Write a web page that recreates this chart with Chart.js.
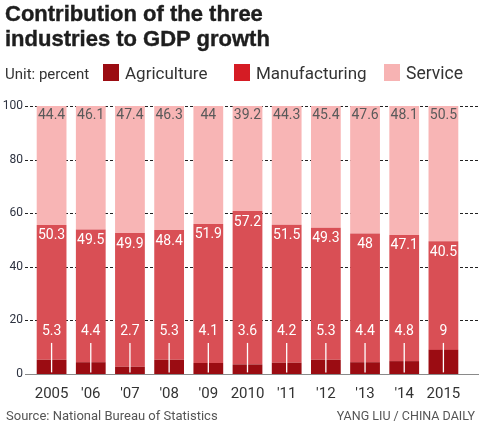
<!DOCTYPE html>
<html lang="en">
<head>
<meta charset="UTF-8">
<title>Contribution of the three industries to GDP growth</title>
<script src="https://cdn.jsdelivr.net/npm/chart.js"></script>
<style>
    body {
        margin: 0;
        background: #fff;
        font-family: Roboto, "Liberation Sans", sans-serif;
    }
    .wrap {
        position: relative;
        width: 481px;
        height: 427px;
    }
    canvas {
        position: absolute;
        left: 0;
        top: 0;
    }
    h1 {
        position: absolute;
        left: 5px;
        top: 1px;
        margin: 0;
        font: bold 22px/25px "Liberation Sans", Arial, sans-serif;
        color: #1e1e1e;
        -webkit-text-stroke: 0.4px #1e1e1e;
    }
    .legend {
        position: absolute;
        top: 63px;
        left: 5px;
        font-size: 17px;
        color: #333;
        line-height: 20px;
    }
    .legend span {
        position: absolute;
        white-space: nowrap;
    }
    .legend i {
        position: absolute;
        width: 16px;
        height: 17px;
        top: 1px;
    }
    .foot {
        position: absolute;
        top: 408px;
        font-size: 13px;
        color: #555;
        white-space: nowrap;
    }
</style>
</head>
<body>
<div class="wrap">
    <canvas id="gdpChart" width="481" height="427"></canvas>
    <h1>Contribution of the three<br>industries to GDP growth</h1>
    <div class="legend">
        <span style="left:0;font-size:15px;top:1px">Unit: percent</span>
        <i style="left:98px;background:#9b0c12"></i><span style="left:120px">Agriculture</span>
        <i style="left:229px;background:#d51c24"></i><span style="left:251px">Manufacturing</span>
        <i style="left:379px;background:#f7b3b3"></i><span style="left:401px;font-size:17.5px">Service</span>
    </div>
    <div class="foot" style="left:6px">Source: National Bureau of Statistics</div>
    <div class="foot" style="right:6px;font-size:12.5px">YANG LIU / CHINA DAILY</div>
</div>

<script>
    // datos
    const years = ['2005', "'06", "'07", "'08", "'09", '2010', "'11", "'12", "'13", "'14", '2015'];
    const agriculture = [5.3, 4.4, 2.7, 5.3, 4.1, 3.6, 4.2, 5.3, 4.4, 4.8, 9];
    const manufacturing = [50.3, 49.5, 49.9, 48.4, 51.9, 57.2, 51.5, 49.3, 48, 47.1, 40.5];
    const service = [44.4, 46.1, 47.4, 46.3, 44, 39.2, 44.3, 45.4, 47.6, 48.1, 50.5];
    const yTicks = [0, 20, 40, 60, 80, 100];

    // grid lines behind the bars, running past the plot edges
    const gridPlugin = {
        id: 'gridLines',
        beforeDatasetsDraw(chart) {
            const ctx = chart.ctx;
            const y = chart.scales.y;
            ctx.save();
            yTicks.forEach(v => {
                const py = Math.round(y.getPixelForValue(v)) + 0.5;
                ctx.beginPath();
                if (v === 0) {
                    ctx.setLineDash([]);
                    ctx.strokeStyle = '#8a8a8a';
                } else {
                    ctx.setLineDash([3, 2]);
                    ctx.strokeStyle = '#222';
                }
                ctx.lineWidth = 1;
                ctx.moveTo(25, py);
                ctx.lineTo(479, py);
                ctx.stroke();
            });
            ctx.restore();
        }
    };

    // value labels on the bars
    const labelPlugin = {
        id: 'barLabels',
        afterDatasetsDraw(chart) {
            const ctx = chart.ctx;
            const y = chart.scales.y;
            ctx.save();
            ctx.font = '14px Roboto, sans-serif';
            ctx.textAlign = 'center';
            ctx.textBaseline = 'middle';

            chart.getDatasetMeta(0).data.forEach((bar, i) => {
                ctx.fillStyle = '#fff';
                ctx.fillText(agriculture[i], bar.x, y.getPixelForValue(15.7));
                ctx.strokeStyle = '#fff';
                ctx.lineWidth = 1.3;
                ctx.beginPath();
                ctx.moveTo(bar.x, y.getPixelForValue(11.6));
                ctx.lineTo(bar.x, y.getPixelForValue(0.6));
                ctx.stroke();
            });
            chart.getDatasetMeta(1).data.forEach((bar, i) => {
                ctx.fillStyle = '#fff';
                ctx.fillText(manufacturing[i], bar.x, bar.y + 11);
            });
            chart.getDatasetMeta(2).data.forEach((bar, i) => {
                ctx.fillStyle = '#5a5a5a';
                ctx.fillText(service[i], bar.x, bar.y + 9);
            });
            ctx.restore();
        }
    };

    new Chart(document.getElementById('gdpChart'), {
        type: 'bar',
        data: {
            labels: years,
            datasets: [
                { label: 'Agriculture', data: agriculture, backgroundColor: '#9b0c12' },
                { label: 'Manufacturing', data: manufacturing, backgroundColor: '#d94f55' },
                { label: 'Service', data: service, backgroundColor: '#f8b5b5' }
            ]
        },
        options: {
            responsive: false,
            animation: false,
            layout: { padding: { top: 106, right: 18, bottom: 26, left: 0 } },
            datasets: { bar: { categoryPercentage: 1, barPercentage: 0.76 } },
            scales: {
                x: {
                    stacked: true,
                    grid: { display: false, drawTicks: false },
                    border: { display: false },
                    ticks: {
                        color: '#333',
                        font: { size: 15, family: 'Roboto' },
                        padding: 11,
                        maxRotation: 0,
                        minRotation: 0,
                        autoSkip: false
                    },
                    afterFit(scale) { scale.height = 27; }
                },
                y: {
                    stacked: true,
                    min: 0,
                    max: 100,
                    afterBuildTicks(scale) { scale.ticks = yTicks.map(v => ({ value: v })); },
                    grid: { display: false, drawTicks: false },
                    border: { display: false },
                    ticks: { color: '#2d3240', font: { size: 12, family: 'Roboto' }, padding: 9 },
                    afterFit(scale) { scale.width = 32; }
                }
            },
            plugins: {
                legend: { display: false },
                tooltip: { enabled: false }
            }
        },
        plugins: [gridPlugin, labelPlugin]
    });
</script>
</body>
</html>
